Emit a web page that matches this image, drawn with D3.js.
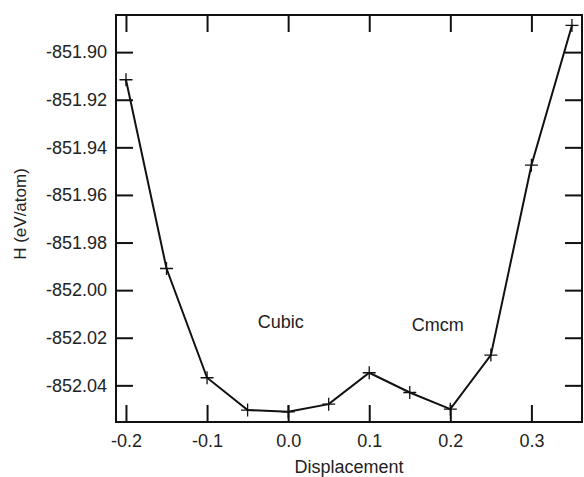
<!DOCTYPE html>
<html>
<head>
<meta charset="utf-8">
<script src="https://cdn.jsdelivr.net/npm/d3@7"></script>
<style>
  body { margin: 0; background: #fff; }
  svg text { font-family: "Liberation Sans", Arial, sans-serif; fill: #222; }
</style>
</head>
<body>
<svg id="chart" width="584" height="477"></svg>
<script>
// values
const displacement = [-0.2, -0.15, -0.1, -0.05, 0.0, 0.05, 0.1, 0.15, 0.2, 0.25, 0.3, 0.35];
const enthalpy = [-851.9116, -851.9909, -852.0368, -852.0504, -852.0511, -852.0479,
                  -852.0347, -852.0430, -852.0500, -852.0273, -851.9475, -851.8888];
const xTicks = [-0.2, -0.1, 0.0, 0.1, 0.2, 0.3];
const yTicks = [-851.90, -851.92, -851.94, -851.96, -851.98, -852.00, -852.02, -852.04];
const phaseLabels = [
  { text: "Cubic", x: -0.0092, y: -852.0157 },
  { text: "Cmcm", x: 0.1845, y: -852.0172 }
];

const svg = d3.select("#chart");
const plotLeft = 116, plotRight = 582, plotTop = 15, plotBottom = 422;

const x = d3.scaleLinear().domain([-0.2123, 0.3624]).range([plotLeft, plotRight]);
const y = d3.scaleLinear().domain([-852.0554, -851.8844]).range([plotBottom, plotTop]);

const tickLen = 17;
const fontSize = 18;
// plain hyphen instead of d3's unicode minus
const fmt = p => d => d3.format(p)(d).replace("\u2212", "-");

// bottom / top axes (ticks pointing inward)
svg.append("g")
  .attr("transform", `translate(0,${plotBottom})`)
  .call(d3.axisBottom(x).tickValues(xTicks).tickSizeInner(-tickLen).tickSizeOuter(0)
    .tickPadding(12).tickFormat(fmt(".1f")))
  .call(g => g.select(".domain").remove())
  .call(g => g.selectAll("line").attr("stroke", "#111").attr("stroke-width", 2))
  .call(g => g.selectAll("text").attr("font-size", fontSize).attr("fill", "#222"));

svg.append("g")
  .attr("transform", `translate(0,${plotTop})`)
  .call(d3.axisTop(x).tickValues(xTicks).tickSizeInner(-tickLen).tickSizeOuter(0).tickFormat(""))
  .call(g => g.select(".domain").remove())
  .call(g => g.selectAll("line").attr("stroke", "#111").attr("stroke-width", 2));

// left / right axes
svg.append("g")
  .attr("transform", `translate(${plotLeft},0)`)
  .call(d3.axisLeft(y).tickValues(yTicks).tickSizeInner(-tickLen).tickSizeOuter(0)
    .tickPadding(9).tickFormat(fmt(".2f")))
  .call(g => g.select(".domain").remove())
  .call(g => g.selectAll("line").attr("stroke", "#111").attr("stroke-width", 2))
  .call(g => g.selectAll("text").attr("font-size", fontSize).attr("fill", "#222"));

svg.append("g")
  .attr("transform", `translate(${plotRight},0)`)
  .call(d3.axisRight(y).tickValues(yTicks).tickSizeInner(-tickLen).tickSizeOuter(0).tickFormat(""))
  .call(g => g.select(".domain").remove())
  .call(g => g.selectAll("line").attr("stroke", "#111").attr("stroke-width", 2));

// frame
svg.append("rect")
  .attr("x", plotLeft).attr("y", plotTop)
  .attr("width", plotRight - plotLeft).attr("height", plotBottom - plotTop)
  .attr("fill", "none").attr("stroke", "#111").attr("stroke-width", 2);

// curve
const pts = displacement.map((d, i) => [d, enthalpy[i]]);
svg.append("path")
  .datum(pts)
  .attr("fill", "none")
  .attr("stroke", "#111")
  .attr("stroke-width", 2)
  .attr("d", d3.line().x(d => x(d[0])).y(d => y(d[1])));

// cross markers
const cross = 6.5;
svg.selectAll("path.mark")
  .data(pts)
  .enter()
  .append("path")
  .attr("class", "mark")
  .attr("stroke", "#111")
  .attr("stroke-width", 1.3)
  .attr("d", d => {
    const cx = x(d[0]), cy = y(d[1]);
    return `M${cx - cross},${cy}H${cx + cross}M${cx},${cy - cross}V${cy + cross}`;
  });

// phase labels
svg.selectAll("text.phase")
  .data(phaseLabels)
  .enter()
  .append("text")
  .attr("class", "phase")
  .attr("x", d => x(d.x))
  .attr("y", d => y(d.y))
  .attr("text-anchor", "middle")
  .attr("font-size", fontSize)
  .text(d => d.text);

// axis titles
svg.append("text")
  .attr("x", 349)
  .attr("y", 473)
  .attr("text-anchor", "middle")
  .attr("font-size", fontSize)
  .text("Displacement");

svg.append("text")
  .attr("transform", `translate(26,214) rotate(-90)`)
  .attr("text-anchor", "middle")
  .attr("font-size", 17)
  .text("H (eV/atom)");
</script>
</body>
</html>
